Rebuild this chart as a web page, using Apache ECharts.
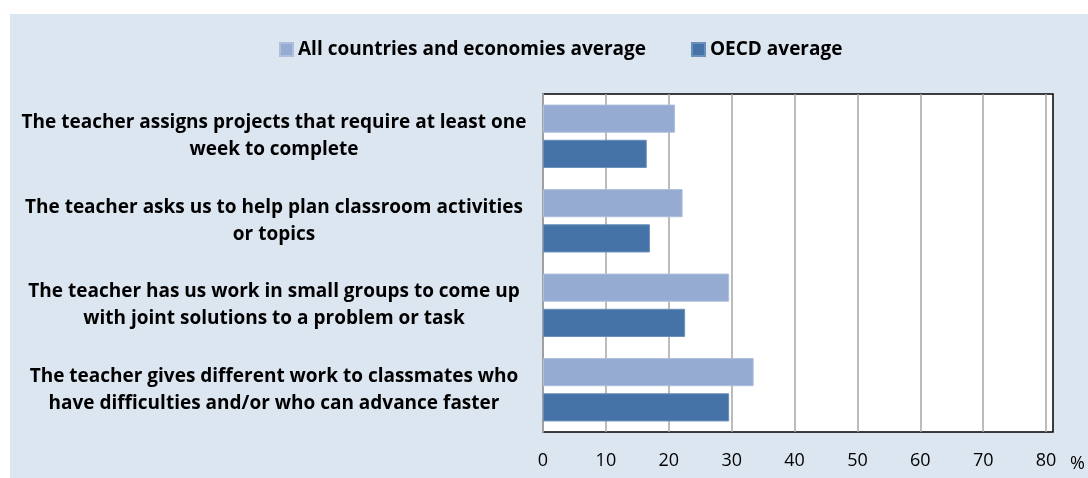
<!DOCTYPE html>
<html>
<head>
<meta charset="utf-8">
<script src="https://cdn.jsdelivr.net/npm/echarts@6/dist/echarts.min.js"></script>
<style>
  html, body { margin: 0; padding: 0; background: #ffffff; }
  #chart { width: 1088px; height: 478px; }
</style>
</head>
<body>
<div id="chart"></div>
<script>
// Share of students reporting each teaching practice (%)
const categories = [
  'The teacher assigns projects that require at least one\nweek to complete',
  'The teacher asks us to help plan classroom activities\nor topics',
  'The teacher has us work in small groups to come up\nwith joint solutions to a problem or task',
  'The teacher gives different work to classmates who\nhave difficulties and/or who can advance faster'
];
const allCountries = [21.0, 22.2, 29.6, 33.5];
const oecdAverage = [16.5, 17.0, 22.6, 29.6];
const seriesNames = ['All countries and economies average', 'OECD average'];
const xTicks = { min: 0, max: 80, interval: 10 };

const FONT = '"Open Sans", "Noto Sans", sans-serif';
const chart = echarts.init(document.getElementById('chart'));

chart.setOption({
  animation: false,
  backgroundColor: '#ffffff',
  textStyle: { fontFamily: FONT },
  graphic: [
    { type: 'rect', z: -10, shape: { x: 10, y: 14, width: 1078, height: 464 }, style: { fill: '#dce6f1' } },
    { type: 'rect', z: -5, shape: { x: 543, y: 94, width: 510, height: 338 }, style: { fill: '#ffffff', stroke: '#000000', lineWidth: 1.5 } }
  ],
  legend: {
    top: 35,
    left: 274,
    itemWidth: 13,
    itemHeight: 13,
    itemGap: 45,
    icon: 'rect',
    textStyle: { fontFamily: FONT, fontWeight: 'bold', fontSize: 19, color: '#000000' },
    data: seriesNames
  },
  grid: { left: 543, top: 94, width: 504, height: 338, containLabel: false },
  xAxis: {
    type: 'value',
    min: xTicks.min,
    max: xTicks.max,
    interval: xTicks.interval,
    name: '%',
    nameLocation: 'end',
    nameGap: 24,
    nameTextStyle: { fontFamily: FONT, fontSize: 18, color: '#000000', verticalAlign: 'top', padding: [23, 0, 0, 0] },
    axisLine: { show: false },
    axisTick: { show: false },
    axisLabel: { fontFamily: FONT, fontSize: 18, color: '#000000', margin: 20 },
    splitLine: { show: true, lineStyle: { color: '#a6a6a6', width: 1.5 } }
  },
  yAxis: {
    type: 'category',
    inverse: true,
    data: categories,
    axisLine: { show: true, lineStyle: { color: '#a0a0a0', width: 2 } },
    axisTick: { show: false },
    splitLine: { show: false },
    axisLabel: {
      fontFamily: FONT, fontSize: 19, fontWeight: 'bold', color: '#000000',
      align: 'center', margin: 269, lineHeight: 27
    }
  },
  series: [
    {
      name: seriesNames[0], type: 'bar', data: allCountries,
      barGap: '25%', barCategoryGap: '25%',
      itemStyle: { color: '#95abd2', borderColor: '#aebfdc', borderWidth: 1 }
    },
    {
      name: seriesNames[1], type: 'bar', data: oecdAverage,
      barGap: '25%', barCategoryGap: '25%',
      itemStyle: { color: '#4573a7', borderColor: '#6a8fbb', borderWidth: 1 }
    }
  ]
});
</script>
</body>
</html>
